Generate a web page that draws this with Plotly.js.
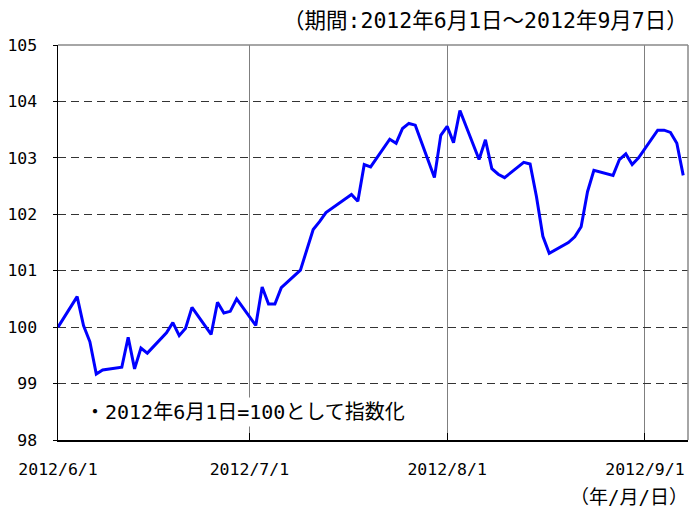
<!DOCTYPE html>
<html>
<head>
<meta charset="utf-8">
<script src="https://cdn.plot.ly/plotly-3.0.1.min.js"></script>
<style>html,body{margin:0;padding:0;background:#fff;}#chart{width:690px;height:510px;}</style>
</head>
<body>
<div id="chart"></div>
<script>
var dates = ['2012-06-01','2012-06-04','2012-06-05','2012-06-06','2012-06-07','2012-06-08',
  '2012-06-11','2012-06-12','2012-06-13','2012-06-14','2012-06-15',
  '2012-06-18','2012-06-19','2012-06-20','2012-06-21','2012-06-22',
  '2012-06-25','2012-06-26','2012-06-27','2012-06-28','2012-06-29',
  '2012-07-02','2012-07-03','2012-07-04','2012-07-05','2012-07-06',
  '2012-07-09','2012-07-10','2012-07-11','2012-07-12','2012-07-13',
  '2012-07-17','2012-07-18','2012-07-19','2012-07-20',
  '2012-07-23','2012-07-24','2012-07-25','2012-07-26','2012-07-27',
  '2012-07-30','2012-07-31','2012-08-01','2012-08-02','2012-08-03',
  '2012-08-06','2012-08-07','2012-08-08','2012-08-09','2012-08-10',
  '2012-08-13','2012-08-14','2012-08-15','2012-08-16','2012-08-17',
  '2012-08-20','2012-08-21','2012-08-22','2012-08-23','2012-08-24',
  '2012-08-27','2012-08-28','2012-08-29','2012-08-30','2012-08-31',
  '2012-09-03','2012-09-04','2012-09-05','2012-09-06','2012-09-07'];
var indexValues = [100.00,100.54,100.03,99.74,99.17,99.24,
  99.29,99.82,99.26,99.63,99.54,
  99.90,100.08,99.85,99.98,100.35,
  99.87,100.44,100.25,100.28,100.50,
  100.03,100.71,100.41,100.41,100.70,
  101.01,101.37,101.73,101.87,102.03,
  102.35,102.23,102.88,102.84,
  103.33,103.26,103.52,103.61,103.58,
  102.65,103.40,103.56,103.27,103.84,
  102.97,103.32,102.81,102.71,102.65,
  102.92,102.89,102.31,101.61,101.31,
  101.50,101.60,101.78,102.40,102.78,
  102.69,102.97,103.07,102.88,103.00,
  103.49,103.49,103.45,103.26,102.69];
var yTicks = [98,99,100,101,102,103,104,105];
var xTicks = ['2012-06-01','2012-07-01','2012-08-01','2012-09-01'];
var xTickText = ['2012/6/1','2012/7/1','2012/8/1','2012/9/1'];
var periodText = '（期間:2012年6月1日～2012年9月7日）';
var unitText = '（年/月/日）';
var noteText = '・2012年6月1日=100として指数化';

var monoFont = 'DejaVu Sans Mono, Noto Sans CJK JP, sans-serif';

var trace = {
  x: dates, y: indexValues, type: 'scatter', mode: 'lines',
  line: {color: '#0000FF', width: 3}, hoverinfo: 'skip'
};

var layout = {
  width: 690, height: 510,
  margin: {l: 58, r: 2, t: 45, b: 70},
  paper_bgcolor: '#fff', plot_bgcolor: '#fff',
  showlegend: false,
  font: {family: monoFont, size: 17, color: '#000'},
  xaxis: {
    type: 'date',
    range: ['2012-06-01', '2012-09-07 18:00'],
    tickvals: xTicks, ticktext: xTickText,
    ticks: 'inside', ticklen: 7, tickcolor: '#000', tickwidth: 1,
    ticklabelstandoff: 14,
    showgrid: true, gridcolor: '#7f7f7f', gridwidth: 1,
    showline: true, linecolor: '#000', linewidth: 1.5,
    zeroline: false,
    tickfont: {family: monoFont, size: 16.5, color: '#000'}
  },
  yaxis: {
    range: [98, 105],
    tickvals: yTicks,
    ticks: 'outside', ticklen: 4, tickcolor: '#000',
    ticklabelstandoff: 12,
    showgrid: true, gridcolor: '#333', gridwidth: 1, griddash: '8px,5px',
    showline: true, linecolor: '#000', linewidth: 1.5,
    zeroline: false,
    tickfont: {family: monoFont, size: 16.5, color: '#000'}
  },
  shapes: [
    {type: 'line', xref: 'paper', yref: 'paper', x0: 0, x1: 1, y0: 1, y1: 1,
     line: {color: '#888', width: 1.5}},
    {type: 'line', xref: 'paper', yref: 'paper', x0: 1, x1: 1, y0: 0, y1: 1,
     line: {color: '#888', width: 1.5}}
  ],
  annotations: [
    {text: periodText, xref: 'paper', yref: 'paper', x: 1, y: 1, xanchor: 'right', yanchor: 'bottom',
     xshift: 1, yshift: 11, borderpad: 0, showarrow: false, font: {family: monoFont, size: 21.5, color: '#000'}},
    {text: unitText, xref: 'paper', yref: 'paper', x: 1, y: 0, xanchor: 'right', yanchor: 'top',
     xshift: 1, yshift: -45, borderpad: 0, showarrow: false, font: {family: monoFont, size: 19, color: '#000'}},
    {text: noteText, xref: 'paper', yref: 'paper', x: 0.038, y: 0.07, xanchor: 'left', yanchor: 'middle',
     showarrow: false, bgcolor: '#fff', borderpad: 2,
     font: {family: monoFont, size: 20, color: '#000'}}
  ]
};

Plotly.newPlot('chart', [trace], layout, {displayModeBar: false, staticPlot: true});
</script>
</body>
</html>
